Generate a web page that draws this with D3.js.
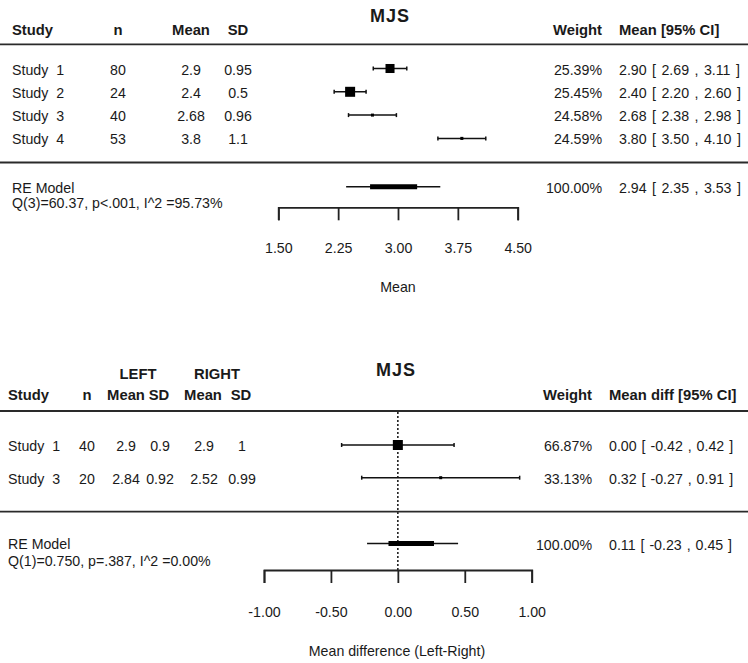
<!DOCTYPE html>
<html>
<head>
<meta charset="utf-8">
<script src="https://cdn.jsdelivr.net/npm/d3@7"></script>
<style>
  body { margin: 0; background: #fff; }
  svg { display: block; font-family: "Liberation Sans", Arial, sans-serif; }
  text { fill: #1a1a1a; white-space: pre; }
</style>
</head>
<body>
<svg id="chart" width="748" height="663"></svg>
<script>
// ---- top panel: MJS means ----
var topStudies = ["Study  1", "Study  2", "Study  3", "Study  4"];
var topN = [80, 24, 40, 53];
var topMean = ["2.9", "2.4", "2.68", "3.8"];
var topSD = ["0.95", "0.5", "0.96", "1.1"];
var topWeight = ["25.39%", "25.45%", "24.58%", "24.59%"];
var topEst = [2.90, 2.40, 2.68, 3.80];
var topLo = [2.69, 2.20, 2.38, 3.50];
var topHi = [3.11, 2.60, 2.98, 4.10];
var topRE = { est: 2.94, lo: 2.35, hi: 3.53, innerLo: 2.65, innerHi: 3.24, weight: "100.00%" };
var topQ = "Q(3)=60.37, p<.001, I^2 =95.73%";
var topTicks = [1.50, 2.25, 3.00, 3.75, 4.50];

// ---- bottom panel: left vs right ----
var botStudies = ["Study  1", "Study  3"];
var botN = [40, 20];
var botLeftMean = ["2.9", "2.84"];
var botLeftSD = ["0.9", "0.92"];
var botRightMean = ["2.9", "2.52"];
var botRightSD = ["1", "0.99"];
var botWeight = ["66.87%", "33.13%"];
var botEst = [0.00, 0.32];
var botLo = [-0.42, -0.27];
var botHi = [0.42, 0.91];
var botRE = { est: 0.11, lo: -0.23, hi: 0.45, innerLo: -0.07, innerHi: 0.27, weight: "100.00%" };
var botQ = "Q(1)=0.750, p=.387, I^2 =0.00%";
var botTicks = [-1.00, -0.50, 0.00, 0.50, 1.00];

var svg = d3.select("#chart");
// plain hyphen for negatives, like the R output
var fmt = d3.formatLocale({ decimal: ".", thousands: ",", grouping: [3], currency: ["", ""], minus: "-" }).format(".2f");

function ciLabel(e, l, h) {
	return fmt(e) + " [ " + fmt(l) + " , " + fmt(h) + " ]";
}

function txt(g, x, y, s, anchor, opts) {
	opts = opts || {};
	return g.append("text")
		.attr("x", x).attr("y", y)
		.attr("text-anchor", anchor || "start")
		.style("font-size", (opts.size || (opts.bold ? 14.8 : 14.2)) + "px")
		.style("font-weight", opts.bold ? "bold" : "normal")
		.style("letter-spacing", opts.ls || null)
		.style("word-spacing", opts.ws || null)
		.text(s);
}

function rule(g, y) {
	g.append("line")
		.attr("x1", 0).attr("x2", 748)
		.attr("y1", y).attr("y2", y)
		.attr("stroke", "#2a2a2a").attr("stroke-width", 1.8);
}

// draws CI line with end caps and a square sized by precision
function studyMarks(g, x, rows, est, lo, hi, prec) {
	var size = d3.scaleLinear()
		.domain(d3.extent(prec))
		.range([3, 10]);
	est.forEach(function(e, i) {
		var y = rows(i);
		g.append("line")
			.attr("x1", x(lo[i])).attr("x2", x(hi[i]))
			.attr("y1", y).attr("y2", y)
			.attr("stroke", "#111").attr("stroke-width", 1.5);
		[lo[i], hi[i]].forEach(function(v) {
			g.append("line")
				.attr("x1", x(v)).attr("x2", x(v))
				.attr("y1", y - 2).attr("y2", y + 2)
				.attr("stroke", "#111").attr("stroke-width", 1.5);
		});
		var s = size(prec[i]);
		g.append("rect")
			.attr("x", x(e) - s / 2).attr("y", y - s / 2)
			.attr("width", s).attr("height", s)
			.attr("fill", "#000");
	});
}

function reMarks(g, x, y, re) {
	g.append("line")
		.attr("x1", x(re.lo)).attr("x2", x(re.hi))
		.attr("y1", y).attr("y2", y)
		.attr("stroke", "#111").attr("stroke-width", 1.5);
	g.append("line")
		.attr("x1", x(re.innerLo)).attr("x2", x(re.innerHi))
		.attr("y1", y).attr("y2", y)
		.attr("stroke", "#000").attr("stroke-width", 5);
}

function drawAxis(g, x, y, ticks, labelGap) {
	var ax = g.append("g")
		.attr("transform", "translate(0," + y + ")")
		.call(d3.axisBottom(x)
			.tickValues(ticks)
			.tickFormat(fmt)
			.tickSize(13)
			.tickSizeOuter(13));
	ax.select(".domain").attr("stroke", "#222").attr("stroke-width", 1.8);
	ax.selectAll(".tick line").attr("stroke", "#222").attr("stroke-width", 1.8);
	ax.selectAll("text")
		.attr("y", labelGap).attr("dy", null)
		.style("font-size", "14.2px")
		.style("font-family", "Liberation Sans, Arial, sans-serif")
		.attr("fill", "#1a1a1a");
}

// ================= TOP =================
var topG = svg.append("g");
var xTop = d3.scaleLinear().domain([1.5, 4.5]).range([278.3, 517.7]);
var rowTop = function(i) { return 68.5 + 23.3 * i; };
var precTop = topN.map(function(n, i) { return n / Math.pow(+topSD[i], 2); });

txt(topG, 390, 21.5, "MJS", "middle", { size: 18, bold: true, ls: "1px" });
txt(topG, 12, 35, "Study", "start", { bold: true });
txt(topG, 118, 35, "n", "middle", { bold: true });
txt(topG, 191, 35, "Mean", "middle", { bold: true });
txt(topG, 238, 35, "SD", "middle", { bold: true });
txt(topG, 602, 35, "Weight", "end", { bold: true });
txt(topG, 619, 35, "Mean [95% CI]", "start", { bold: true });
rule(topG, 44.3);

topStudies.forEach(function(s, i) {
	var yb = rowTop(i) + 6;
	txt(topG, 12, yb, s, "start");
	txt(topG, 118, yb, topN[i], "middle");
	txt(topG, 191, yb, topMean[i], "middle");
	txt(topG, 238, yb, topSD[i], "middle");
	txt(topG, 602, yb, topWeight[i], "end");
	txt(topG, 619, yb, ciLabel(topEst[i], topLo[i], topHi[i]), "start", { ws: "1.5px" });
});
studyMarks(topG, xTop, rowTop, topEst, topLo, topHi, precTop);
rule(topG, 162.5);

txt(topG, 12, 192.5, "RE Model", "start");
txt(topG, 12, 207.5, topQ, "start");
reMarks(topG, xTop, 186.7, topRE);
txt(topG, 602, 193, topRE.weight, "end");
txt(topG, 619, 193, ciLabel(topRE.est, topRE.lo, topRE.hi), "start", { ws: "1.5px" });

drawAxis(topG, xTop, 207.3, topTicks, 46);
txt(topG, 398, 292, "Mean", "middle");

// ================= BOTTOM =================
var botG = svg.append("g");
var xBot = d3.scaleLinear().domain([-1, 1]).range([264, 531.7]);
var rowBot = function(i) { return 445 + 32.7 * i; };
var precBot = botN.map(function(n, i) {
	return 1 / (Math.pow(+botLeftSD[i], 2) / n + Math.pow(+botRightSD[i], 2) / n);
});

txt(botG, 396, 376, "MJS", "middle", { size: 18, bold: true, ls: "1px" });
txt(botG, 138, 379, "LEFT", "middle", { bold: true });
txt(botG, 217, 379, "RIGHT", "middle", { bold: true });
txt(botG, 8, 400, "Study", "start", { bold: true });
txt(botG, 87, 400, "n", "middle", { bold: true });
txt(botG, 126, 400, "Mean", "middle", { bold: true });
txt(botG, 159, 400, "SD", "middle", { bold: true });
txt(botG, 203, 400, "Mean", "middle", { bold: true });
txt(botG, 241, 400, "SD", "middle", { bold: true });
txt(botG, 592, 400, "Weight", "end", { bold: true });
txt(botG, 609, 400, "Mean diff [95% CI]", "start", { bold: true });
rule(botG, 411);

// reference line at zero
botG.append("line")
	.attr("x1", xBot(0)).attr("x2", xBot(0))
	.attr("y1", 412).attr("y2", 570)
	.attr("stroke", "#111").attr("stroke-width", 1.5)
	.attr("stroke-dasharray", "2,2");

botStudies.forEach(function(s, i) {
	var yb = rowBot(i) + 6;
	txt(botG, 8, yb, s, "start");
	txt(botG, 87, yb, botN[i], "middle");
	txt(botG, 126, yb, botLeftMean[i], "middle");
	txt(botG, 160, yb, botLeftSD[i], "middle");
	txt(botG, 204, yb, botRightMean[i], "middle");
	txt(botG, 242, yb, botRightSD[i], "middle");
	txt(botG, 592, yb, botWeight[i], "end");
	txt(botG, 609, yb, ciLabel(botEst[i], botLo[i], botHi[i]), "start", { ws: "1px" });
});
studyMarks(botG, xBot, rowBot, botEst, botLo, botHi, precBot);
rule(botG, 511.7);

txt(botG, 8, 549, "RE Model", "start");
txt(botG, 8, 565.5, botQ, "start");
reMarks(botG, xBot, 543.5, botRE);
txt(botG, 592, 550, botRE.weight, "end");
txt(botG, 609, 550, ciLabel(botRE.est, botRE.lo, botRE.hi), "start", { ws: "1px" });

drawAxis(botG, xBot, 570, botTicks, 47);
txt(botG, 397, 656, "Mean difference (Left-Right)", "middle");
</script>
</body>
</html>
